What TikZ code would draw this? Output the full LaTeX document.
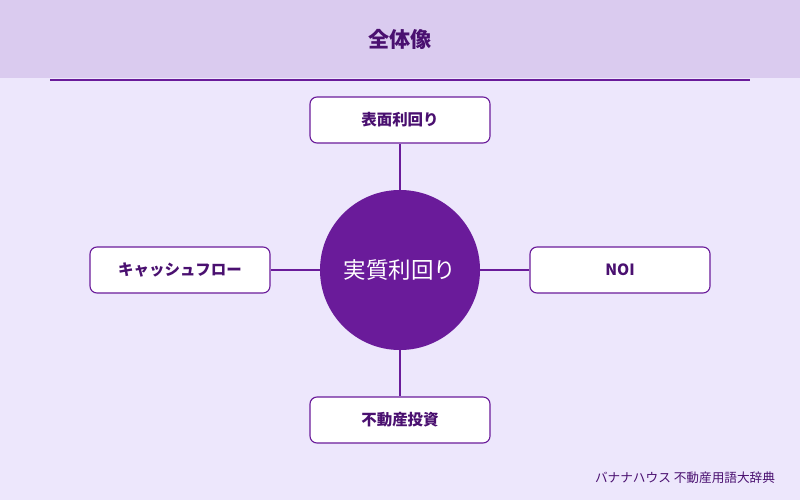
\documentclass[tikz,border=0pt]{standalone}
\usepackage{fontspec}
\setmainfont{Noto Sans CJK JP}
\usetikzlibrary{positioning}
\definecolor{bgpurple}{HTML}{EDE7FC}
\definecolor{headpurple}{HTML}{DACBEF}
\definecolor{deeppurple}{HTML}{6A1B9A}
\definecolor{textpurple}{HTML}{4A1070}

\begin{document}
\begin{tikzpicture}[
  x=0.025cm, y=-0.025cm,
  termbox/.style={draw=deeppurple, fill=white, thick, rounded corners=5pt, minimum width=4.5cm, minimum height=1.15cm, font=\bfseries\fontsize{11}{13}\selectfont, text=textpurple},
  hub/.style={circle, fill=deeppurple, minimum size=4cm, inner sep=0pt, text=white, font=\fontsize{16}{19}\selectfont},
  link/.style={draw=deeppurple, thick}
]

% Background and header
\fill[bgpurple] (0,0) rectangle (800,500);
\fill[headpurple] (0,0) rectangle (800,78);
\node[font=\bfseries\fontsize{15}{18}\selectfont, text=textpurple] (title) at (400,39) {全体像};
\draw[deeppurple, thick] (50,80) -- (750,80);

% Central node
\node[hub] (yield) at (400,270) {実質利回り};

% Surrounding nodes
\node[termbox] (surface) at (400,120) {表面利回り};
\node[termbox] (cashflow) at (180,270) {キャッシュフロー};
\node[termbox] (noi) at (620,270) {NOI};
\node[termbox] (invest) at (400,420) {不動産投資};

% Links
\draw[link] (yield) -- (surface);
\draw[link] (yield) -- (cashflow);
\draw[link] (yield) -- (noi);
\draw[link] (yield) -- (invest);

% Footer
\node[anchor=east, text=textpurple, font=\fontsize{9}{11}\selectfont] (footer) at (780,478) {バナナハウス 不動産用語大辞典};

\end{tikzpicture}
\end{document}
